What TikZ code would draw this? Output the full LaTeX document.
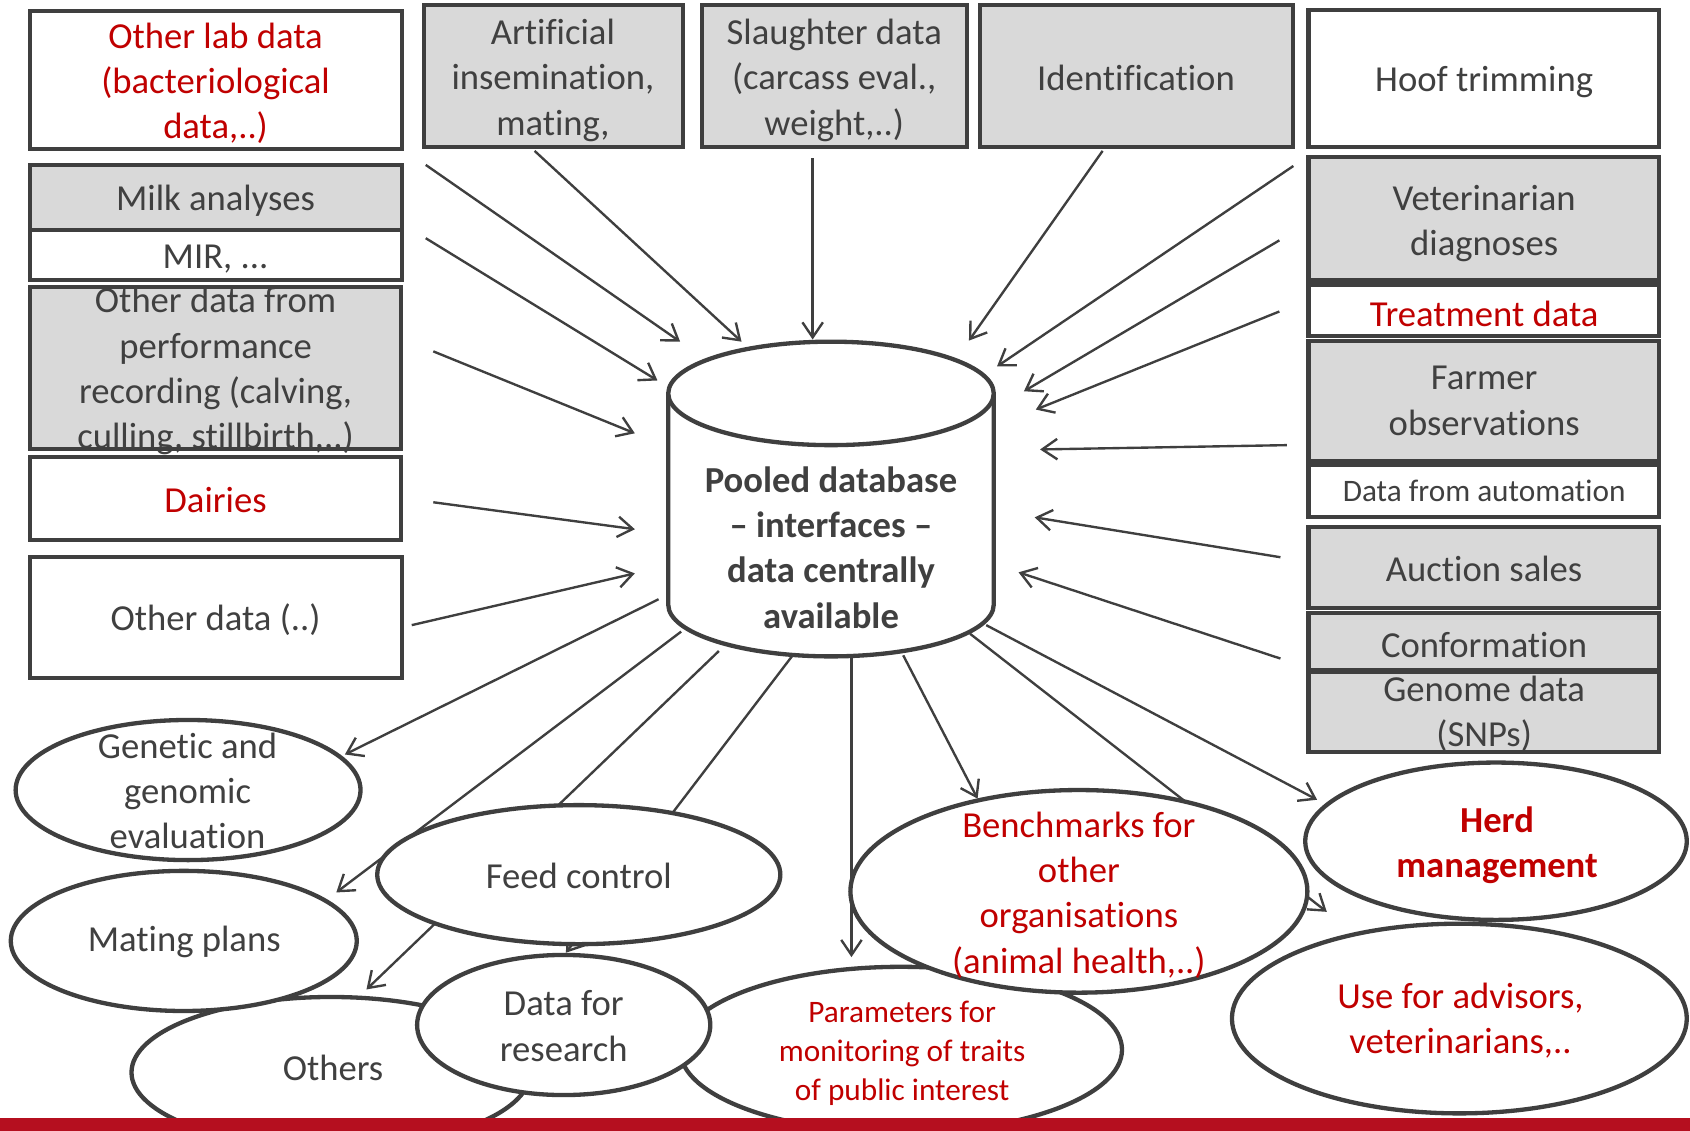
\documentclass[tikz,border=0pt]{standalone}
\usepackage{fontspec}
\setmainfont{Carlito}[Ligatures=CommonOff]
\usetikzlibrary{arrows.meta,shapes.geometric}
\definecolor{bordc}{HTML}{3F3F3F}
\definecolor{boxgray}{HTML}{D9D9D9}
\definecolor{txtgray}{HTML}{404040}
\definecolor{redtxt}{HTML}{C00000}
\definecolor{barred}{HTML}{B50F1F}
\begin{document}
\begin{tikzpicture}[x=1pt,y=-1pt,
  gbox/.style={draw=bordc, fill=boxgray, line width=3.8pt, inner sep=0pt, outer sep=0pt},
  wbox/.style={gbox, fill=white},
  ell/.style={ellipse, draw=bordc, fill=white, line width=4pt, inner sep=0pt, outer sep=0pt},
  lbl/.style={text=txtgray, align=center, inner sep=0pt, font=\fontsize{34}{42}\selectfont},
  rlbl/.style={lbl, text=redtxt},
  arr/.style={draw=bordc, line width=2.2pt, -{Straight Barb[length=14pt,width=19pt]}},
  cyl/.style={draw=bordc, line width=4pt}]

\useasboundingbox (0,0) rectangle (1568,1049);

% ---------- connector end points ----------
\coordinate (a1s) at (395,153);  \coordinate (a1e) at (631,317);
\coordinate (a2s) at (496,140);  \coordinate (a2e) at (688,317);
\coordinate (a3s) at (754,147);  \coordinate (a3e) at (754,315);
\coordinate (a4s) at (395,221);  \coordinate (a4e) at (610,353);
\coordinate (a5s) at (402,326);  \coordinate (a5e) at (589,402);
\coordinate (a6s) at (402,466);  \coordinate (a6e) at (589,491);
\coordinate (a7s) at (382,580);  \coordinate (a7e) at (589,532);
\coordinate (a8s) at (1023,140); \coordinate (a8e) at (899,316);
\coordinate (a9s) at (1200,154); \coordinate (a9e) at (925,340);
\coordinate (a10s) at (1187,223); \coordinate (a10e) at (950,363);
\coordinate (a11s) at (1187,289); \coordinate (a11e) at (961,380);
\coordinate (a12s) at (1194,413); \coordinate (a12e) at (965,417);
\coordinate (a13s) at (1188,517); \coordinate (a13e) at (960,480);
\coordinate (a14s) at (1188,611); \coordinate (a14e) at (945,531);
\coordinate (b1s) at (611,556);  \coordinate (b1e) at (320,700);
\coordinate (b2s) at (632,586);  \coordinate (b2e) at (312,828);
\coordinate (b3s) at (667,604);  \coordinate (b3e) at (340,918);
\coordinate (b4s) at (737,606);  \coordinate (b4e) at (525,884);
\coordinate (b5s) at (790,610);  \coordinate (b5e) at (790,888);
\coordinate (b6s) at (838,608);  \coordinate (b6e) at (907,741);
\coordinate (b7s) at (900,588);  \coordinate (b7e) at (1231,846);
\coordinate (b8s) at (915,580);  \coordinate (b8e) at (1222,742);

% ---------- connectors ----------
\foreach \a in {a1,a2,a3,a4,a5,a6,a7,a8,a9,a10,a11,a12,a13,a14,b1,b2,b3,b4,b5,b6,b7,b8}
  \draw[arr] (\a s) -- (\a e);

% ---------- boxes ----------
\node[wbox, minimum width=345pt, minimum height=128pt] (lab) at (200.5,74) {};
\node[gbox, minimum width=345pt, minimum height=60pt] (milk) at (200.5,183) {};
\node[wbox, minimum width=345pt, minimum height=47pt] (mir) at (200.5,236.5) {};
\node[gbox, minimum width=344pt, minimum height=151pt] (perf) at (200,341.5) {};
\node[wbox, minimum width=344pt, minimum height=77pt] (dair) at (200,462.5) {};
\node[wbox, minimum width=345pt, minimum height=112pt] (oth) at (200.5,573) {};
\node[gbox, minimum width=241pt, minimum height=131pt] (ai) at (513.5,70.5) {};
\node[gbox, minimum width=246pt, minimum height=131pt] (sl) at (774,70.5) {};
\node[gbox, minimum width=291pt, minimum height=131pt] (id) at (1054.5,70.5) {};
\node[wbox, minimum width=325pt, minimum height=127pt] (hoof) at (1376.5,72.5) {};
\node[gbox, minimum width=325pt, minimum height=114pt] (vet) at (1376.5,203) {};
\node[wbox, minimum width=325pt, minimum height=48pt] (treat) at (1376.5,288) {};
\node[gbox, minimum width=325pt, minimum height=112pt] (farm) at (1376.5,372) {};
\node[wbox, minimum width=325pt, minimum height=49pt] (auto) at (1376.5,455.5) {};
\node[gbox, minimum width=325pt, minimum height=75pt] (auc) at (1376.5,526.5) {};
\node[gbox, minimum width=325pt, minimum height=53pt] (conf) at (1376.5,595.5) {};
\node[gbox, minimum width=325pt, minimum height=75pt] (geno) at (1376.5,660.5) {};

% ---------- cylinder ----------
\fill[white] (620,365) -- (620,561) arc[start angle=180,end angle=360,x radius=151pt,y radius=48pt] -- (922,365) -- cycle;
\draw[cyl] (620,365) -- (620,561) arc[start angle=180,end angle=360,x radius=151pt,y radius=48pt] -- (922,365);
\draw[cyl, fill=white] (771,365) ellipse[x radius=151pt, y radius=48pt];

% ---------- ellipses ----------
\node[ell, minimum width=370pt, minimum height=140pt] (oths) at (307,995) {};
\node[ell, minimum width=410pt, minimum height=154pt] (par) at (836,974) {};
\node[ell, minimum width=272pt, minimum height=130pt] (res) at (523,951) {};
\node[ell, minimum width=321pt, minimum height=130pt] (mat) at (170.5,873) {};
\node[ell, minimum width=320pt, minimum height=130pt] (gen) at (174.5,733) {};
\node[ell, minimum width=374pt, minimum height=129pt] (feed) at (537,811.5) {};
\node[ell, minimum width=424pt, minimum height=188pt] (ben) at (1001,827) {};
\node[ell, minimum width=422pt, minimum height=176pt] (use) at (1354,945) {};
\node[ell, minimum width=354pt, minimum height=146pt] (herd) at (1388,780.5) {};

% ---------- texts ----------
\node[rlbl] (labT) at (200,77.5) {Other lab data\\(bacteriological\\data,..)};
\node[lbl] (milkT) at (200,186) {Milk analyses};
\node[lbl] (mirT) at (200,240.5) {MIR, ...};
\node[lbl] (perfT) at (200,344.5) {Other data from\\performance\\recording (calving,\\culling, stillbirth,..)};
\node[rlbl] (dairT) at (200,464) {Dairies};
\node[lbl] (othT) at (200,575) {Other data (..)};
\node[lbl] (aiT) at (513,74.5) {Artificial\\insemination,\\mating,};
\node[lbl] (slT) at (774,74.5) {Slaughter data\\(carcass eval.,\\weight,..)};
\node[lbl] (idT) at (1054,72) {Identification};
\node[lbl] (hoofT) at (1377,76.5) {Hoof trimming};
\node[lbl] (vetT) at (1377,207.5) {Veterinarian\\diagnoses};
\node[rlbl] (trT) at (1377,291) {Treatment data};
\node[lbl] (farmT) at (1377,372) {Farmer\\observations};
\node[lbl, font=\fontsize{29}{35}\selectfont] (autoT) at (1377,455) {Data from automation};
\node[lbl] (aucT) at (1377,528) {Auction sales};
\node[lbl] (confT) at (1377,598) {Conformation};
\node[lbl] (genoT) at (1377,662.5) {Genome data\\(SNPs)};

\node[lbl, font=\fontsize{34}{42}\selectfont\bfseries] (db) at (771,508) {Pooled database\\– interfaces –\\data centrally\\available};

\node[lbl] (genT) at (174,734) {Genetic and\\genomic\\evaluation};
\node[lbl] (matT) at (171,874) {Mating plans};
\node[lbl] (feedT) at (537,813) {Feed control};
\node[lbl] (othsT) at (309,991) {Others};
\node[lbl] (resT) at (523,952) {Data for\\research};
\node[rlbl, font=\fontsize{29}{36}\selectfont] (parT) at (837,977) {Parameters for\\monitoring of traits\\of public interest};
\node[rlbl] (benT) at (1001,830.5) {Benchmarks for\\other\\organisations\\(animal health,..)};
\node[rlbl, font=\fontsize{34}{42}\selectfont\bfseries] (herdT) at (1389,784) {Herd\\management};
\node[rlbl] (useT) at (1355,947) {Use for advisors,\\veterinarians,..};

% ---------- bottom bar ----------
\fill[barred] (0,1037) rectangle (1568,1049);
\end{tikzpicture}
\end{document}
